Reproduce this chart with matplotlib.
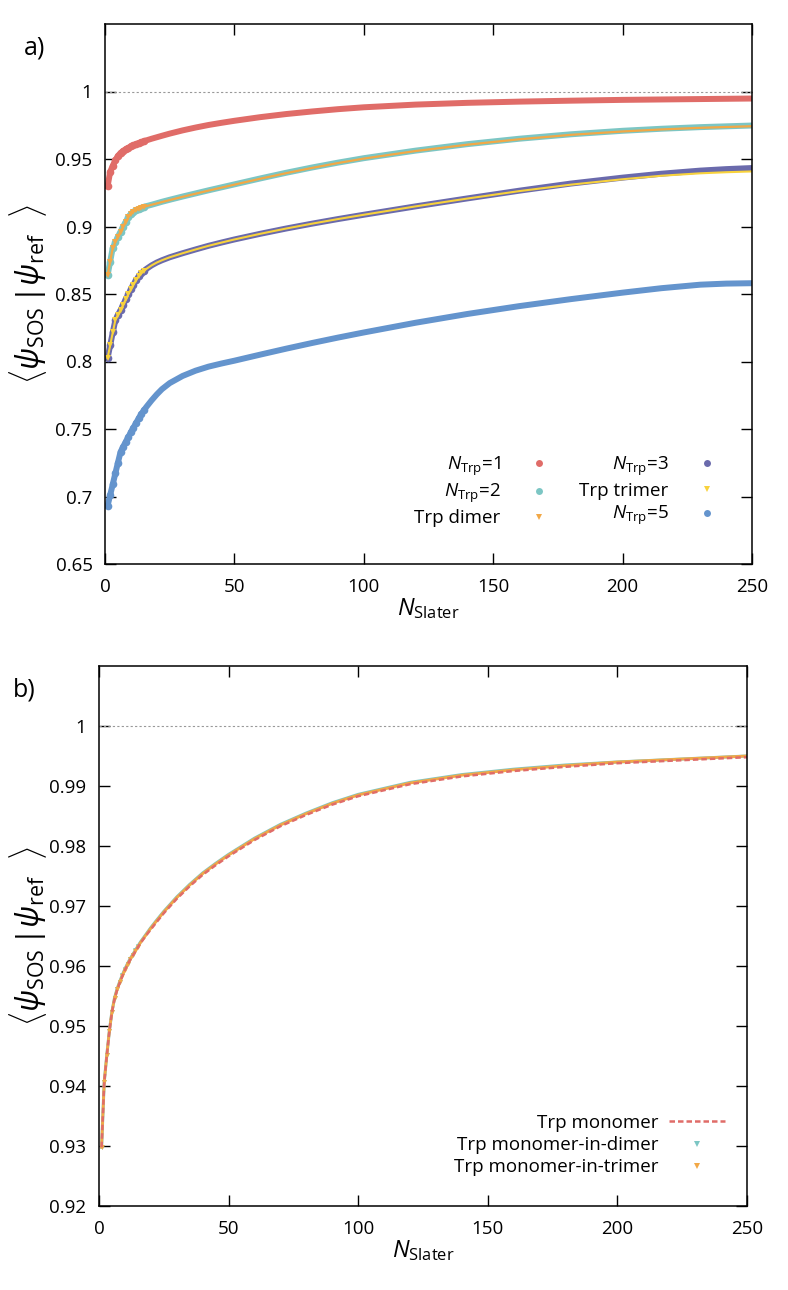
import matplotlib
matplotlib.use("Agg")
import matplotlib.pyplot as plt
from matplotlib.lines import Line2D

plt.rcParams['font.family'] = ['Open Sans', 'DejaVu Sans']
plt.rcParams['mathtext.fontset'] = 'custom'
plt.rcParams['mathtext.rm'] = 'Open Sans'
plt.rcParams['mathtext.it'] = 'Open Sans:italic'
plt.rcParams['mathtext.bf'] = 'Open Sans:bold'

# sampled N_Slater values
n_slater = [1, 2, 3, 4, 5, 6, 7, 8, 9, 10, 11, 12, 13, 14, 15, 16, 18, 20, 22, 25,
            30, 35, 40, 45, 50, 60, 70, 80, 90, 100, 120, 140, 160, 180, 200, 215,
            230, 240, 250]

# panel a) overlaps
ntrp1 = [0.9298, 0.9405, 0.9450, 0.9491, 0.9523, 0.9545, 0.9560, 0.9572, 0.9583, 0.9593,
         0.9602, 0.9610, 0.9617, 0.9624, 0.9631, 0.9638, 0.9650, 0.9661, 0.9672, 0.9688,
         0.9712, 0.9733, 0.9752, 0.9768, 0.9783, 0.9810, 0.9833, 0.9852, 0.9869, 0.9883,
         0.9903, 0.9916, 0.9925, 0.9932, 0.9938, 0.9941, 0.9944, 0.9946, 0.9948]
ntrp2 = [0.8640, 0.8740, 0.8843, 0.8883, 0.8925, 0.8962, 0.9000, 0.9035, 0.9068, 0.9095,
         0.9110, 0.9121, 0.9130, 0.9138, 0.9145, 0.9151, 0.9161, 0.9172, 0.9183, 0.9198,
         0.9222, 0.9245, 0.9268, 0.9290, 0.9312, 0.9356, 0.9398, 0.9437, 0.9473, 0.9506,
         0.9562, 0.9610, 0.9650, 0.9683, 0.9709, 0.9724, 0.9736, 0.9742, 0.9748]
dimer = [0.8640, 0.8740, 0.8843, 0.8883, 0.8925, 0.8962, 0.9000, 0.9035, 0.9068, 0.9095,
         0.9110, 0.9121, 0.9130, 0.9138, 0.9145, 0.9151, 0.9161, 0.9171, 0.9181, 0.9196,
         0.9220, 0.9243, 0.9266, 0.9288, 0.9310, 0.9354, 0.9395, 0.9434, 0.9470, 0.9503,
         0.9559, 0.9606, 0.9646, 0.9679, 0.9704, 0.9719, 0.9731, 0.9737, 0.9743]
ntrp3 = [0.8026, 0.8120, 0.8215, 0.8306, 0.8346, 0.8380, 0.8420, 0.8460, 0.8497, 0.8534,
         0.8570, 0.8603, 0.8630, 0.8652, 0.8670, 0.8686, 0.8712, 0.8733, 0.8750, 0.8772,
         0.8802, 0.8830, 0.8857, 0.8881, 0.8904, 0.8946, 0.8985, 0.9021, 0.9055, 0.9087,
         0.9149, 0.9208, 0.9265, 0.9318, 0.9362, 0.9391, 0.9414, 0.9425, 0.9433]
trimer = [0.8026, 0.8120, 0.8215, 0.8306, 0.8346, 0.8380, 0.8420, 0.8460, 0.8497, 0.8534,
          0.8570, 0.8603, 0.8630, 0.8652, 0.8670, 0.8686, 0.8712, 0.8733, 0.8750, 0.8772,
          0.8802, 0.8830, 0.8857, 0.8881, 0.8904, 0.8946, 0.8985, 0.9021, 0.9055, 0.9087,
          0.9149, 0.9207, 0.9262, 0.9310, 0.9350, 0.9376, 0.9394, 0.9402, 0.9408]
ntrp5 = [0.6932, 0.7011, 0.7090, 0.7172, 0.7251, 0.7330, 0.7368, 0.7405, 0.7440, 0.7476,
         0.7510, 0.7545, 0.7578, 0.7610, 0.7638, 0.7664, 0.7712, 0.7756, 0.7795, 0.7840,
         0.7893, 0.7932, 0.7962, 0.7985, 0.8006, 0.8051, 0.8095, 0.8137, 0.8177, 0.8215,
         0.8287, 0.8352, 0.8410, 0.8462, 0.8510, 0.8543, 0.8569, 0.8577, 0.8580]

# panel b) monomer comparisons
mono_in_dimer = [0.9298, 0.9406, 0.9451, 0.9492, 0.9524, 0.9547, 0.9562, 0.9574, 0.9585, 0.9595,
                 0.9604, 0.9612, 0.9619, 0.9626, 0.9633, 0.9640, 0.9652, 0.9664, 0.9675, 0.9691,
                 0.9715, 0.9736, 0.9755, 0.9771, 0.9786, 0.9813, 0.9836, 0.9855, 0.9872, 0.9886,
                 0.9906, 0.9919, 0.9928, 0.9935, 0.9940, 0.9943, 0.9946, 0.9948, 0.9950]
mono_in_trimer = [0.9298, 0.9406, 0.9451, 0.9492, 0.9524, 0.9546, 0.9561, 0.9573, 0.9584, 0.9594,
                  0.9603, 0.9611, 0.9618, 0.9625, 0.9632, 0.9639, 0.9651, 0.9663, 0.9674, 0.9690,
                  0.9714, 0.9735, 0.9754, 0.9770, 0.9785, 0.9812, 0.9835, 0.9854, 0.9871, 0.9885,
                  0.9905, 0.9918, 0.9927, 0.9934, 0.9940, 0.9943, 0.9946, 0.9948, 0.9950]

c_red = '#e06c68'
c_cyan = '#7cc6c4'
c_orange = '#f2a846'
c_purple = '#6a6aac'
c_yellow = '#f8d23c'
c_blue = '#6494cd'

# markers only where the points are still apart (N <= 15)
early = slice(0, 15)

fig = plt.figure(figsize=(7.88, 12.9), dpi=100)
ax1 = fig.add_axes([105/788, 1-564/1290, 647/788, 540/1290])
ax2 = fig.add_axes([99/788, 1-1206/1290, 648/788, 540/1290])

ylab = r'$\langle\psi_{\mathrm{SOS}}\,|\psi_{\mathrm{ref}}\ \ \rangle$'
xlab = r'$N_{\mathrm{Slater}}$'

# ---- panel a
ax1.axhline(1.0, color='#999999', lw=0.8, ls=(0, (2, 2)))
ax1.plot(n_slater, ntrp1, '-o', color=c_red, lw=4.3, ms=5.5, mew=0, markevery=early)
ax1.plot(n_slater, ntrp2, '-o', color=c_cyan, lw=4.3, ms=5.5, mew=0, markevery=early)
ax1.plot(n_slater, dimer, '-v', color=c_orange, lw=1.6, ms=3.8, mew=0, markevery=early)
ax1.plot(n_slater, ntrp3, '-o', color=c_purple, lw=4.3, ms=5.5, mew=0, markevery=early)
ax1.plot(n_slater, trimer, '-v', color=c_yellow, lw=1.5, ms=3.8, mew=0, markevery=early)
ax1.plot(n_slater, ntrp5, '-o', color=c_blue, lw=4.3, ms=5.5, mew=0, markevery=early)

ax1.set_xlim(0, 250)
ax1.set_ylim(0.65, 1.05)
ax1.set_yticks([0.65, 0.7, 0.75, 0.8, 0.85, 0.9, 0.95, 1.0])
ax1.set_yticklabels(['0.65', '0.7', '0.75', '0.8', '0.85', '0.9', '0.95', '1'])

h1 = [Line2D([], [], ls='none', marker='o', ms=5, mew=0, color=c_red),
      Line2D([], [], ls='none', marker='o', ms=5, mew=0, color=c_cyan),
      Line2D([], [], ls='none', marker='v', ms=4, mew=0, color=c_orange)]
h2 = [Line2D([], [], ls='none', marker='o', ms=5, mew=0, color=c_purple),
      Line2D([], [], ls='none', marker='v', ms=4, mew=0, color=c_yellow),
      Line2D([], [], ls='none', marker='o', ms=5, mew=0, color=c_blue)]
lab1 = [r'$N_{\mathrm{Trp}}$=1', r'$N_{\mathrm{Trp}}$=2', 'Trp dimer']
lab2 = [r'$N_{\mathrm{Trp}}$=3', 'Trp trimer', r'$N_{\mathrm{Trp}}$=5']
leg_kw = dict(frameon=False, markerfirst=False, handlelength=3.0, handletextpad=0.55,
              labelspacing=0.22, borderpad=0, borderaxespad=0, fontsize=13.5, loc='lower right')
leg_a1 = ax1.legend(h1, lab1, bbox_to_anchor=((567-105)/647, 0.068), **leg_kw)
ax1.add_artist(leg_a1)
ax1.legend(h2, lab2, bbox_to_anchor=((735-105)/647, 0.068), **leg_kw)

# ---- panel b
ax2.axhline(1.0, color='#999999', lw=0.8, ls=(0, (2, 2)))
ax2.plot(n_slater, mono_in_dimer, '-v', color=c_cyan, lw=2.2, ms=3.5, mew=0,
         markevery=early)
ax2.plot(n_slater, mono_in_trimer, '-v', color=c_orange, lw=2.0, ms=3.5, mew=0,
         markevery=early)
ax2.plot(n_slater, ntrp1, color=c_red, lw=1.8, ls=(0, (2.2, 1.2)))

ax2.set_xlim(0, 250)
ax2.set_ylim(0.92, 1.01)
ax2.set_yticks([0.92, 0.93, 0.94, 0.95, 0.96, 0.97, 0.98, 0.99, 1.0])
ax2.set_yticklabels(['0.92', '0.93', '0.94', '0.95', '0.96', '0.97', '0.98', '0.99', '1'])

hb = [Line2D([], [], color=c_red, lw=1.8, ls=(0, (2.2, 1.2))),
      Line2D([], [], ls='none', marker='v', ms=4, mew=0, color=c_cyan),
      Line2D([], [], ls='none', marker='v', ms=4, mew=0, color=c_orange)]
ax2.legend(hb, ['Trp monomer', 'Trp monomer-in-dimer', 'Trp monomer-in-trimer'],
           bbox_to_anchor=((725-99)/648, 0.055), **leg_kw)

for ax, xoff in ((ax1, (28-105)/647), (ax2, (28-99)/648)):
    ax.set_xticks([0, 50, 100, 150, 200, 250])
    ax.tick_params(direction='in', length=8, width=1, top=True, right=True,
                   labelsize=13.5)
    ax.tick_params(axis='x', pad=10)
    ax.tick_params(axis='y', pad=9)
    for s in ax.spines.values():
        s.set_linewidth(1.1)
    ax.set_xlabel(xlab, fontsize=17)
    ax.xaxis.label.set_va('center')
    ax.xaxis.set_label_coords(0.5, -0.082)
    ax.set_ylabel(ylab, fontsize=22)
    ax.yaxis.label.set_va('center')
    ax.yaxis.set_label_coords(xoff, 0.5)

fig.text(35/788, 1-48/1290, 'a)', fontsize=18, ha='center', va='center')
fig.text(24/788, 1-690/1290, 'b)', fontsize=18, ha='center', va='center')

fig.savefig('out.png', dpi=100)
